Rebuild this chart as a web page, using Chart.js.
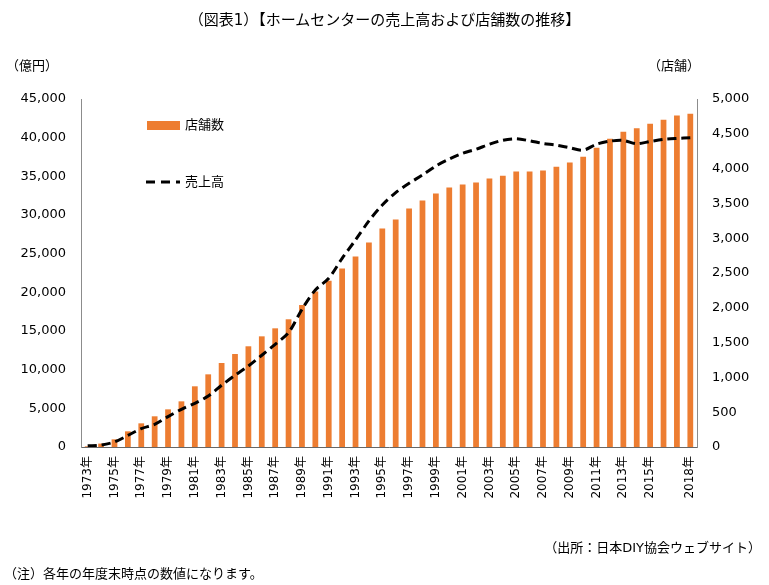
<!DOCTYPE html>
<html lang="ja">
<head>
<meta charset="utf-8">
<script src="https://cdn.jsdelivr.net/npm/chart.js@4"></script>
<style>
  html, body { margin: 0; padding: 0; background: #fff; }
  #wrap { position: relative; width: 769px; height: 585px; font-family: "DejaVu Sans", "Noto Sans CJK JP", sans-serif; color: #000; }
  #chart { position: absolute; left: 0; top: 0; }
  .txt { position: absolute; white-space: nowrap; }
</style>
</head>
<body>
<div id="wrap">
  <canvas id="chart" width="769" height="585"></canvas>
  <div class="txt" style="left:0;width:769px;top:8px;text-align:center;font-size:15px;">（図表1）【ホームセンターの売上高および店舗数の推移】</div>
  <div class="txt" style="left:6px;top:55px;font-size:13px;">（億円）</div>
  <div class="txt" style="left:648px;top:55px;font-size:13px;">（店舗）</div>
  <div class="txt" style="right:8px;top:537px;font-size:13px;">（出所：日本DIY協会ウェブサイト）</div>
  <div class="txt" style="left:4px;top:563px;font-size:13px;">（注）各年の年度末時点の数値になります。</div>
</div>
<script>
const years = [
  1973, 1974, 1975, 1976, 1977, 1978, 1979, 1980, 1981, 1982,
  1983, 1984, 1985, 1986, 1987, 1988, 1989, 1990, 1991, 1992,
  1993, 1994, 1995, 1996, 1997, 1998, 1999, 2000, 2001, 2002,
  2003, 2004, 2005, 2006, 2007, 2008, 2009, 2010, 2011, 2012,
  2013, 2014, 2015, 2016, 2017, 2018
];

// 店舗数 (right axis)
const storeCounts = [
  10, 49, 110, 225, 340, 441, 541, 656, 872, 1044,
  1207, 1336, 1447, 1590, 1705, 1835, 2040, 2234, 2388, 2565,
  2737, 2938, 3139, 3269, 3427, 3542, 3642, 3728, 3772, 3800,
  3858, 3897, 3958, 3958, 3973, 4026, 4088, 4169, 4299, 4428,
  4529, 4581, 4644, 4701, 4763, 4787
];

// 売上高 億円 (left axis)
const salesValues = [
  150, 250, 650, 1500, 2380, 2930, 3930, 4870, 5650, 6590,
  7980, 9270, 10470, 11860, 13280, 14790, 17800, 20300, 21810, 24400,
  26770, 29230, 31290, 32890, 34100, 35170, 36340, 37240, 37980, 38500,
  39150, 39670, 39850, 39600, 39250, 39030, 38690, 38380, 39160, 39550,
  39640, 39210, 39510, 39770, 39900, 39990
];

const shownYears = [
  1973, 1975, 1977, 1979, 1981, 1983, 1985, 1987, 1989, 1991, 1993,
  1995, 1997, 1999, 2001, 2003, 2005, 2007, 2009, 2011, 2013, 2015, 2018
];

const labels = years.map((y) => `${y}年`);

const FONT = "'DejaVu Sans', 'Noto Sans CJK JP', sans-serif";
const AXIS_GRAY = "#8c8c8c";

const insideLegend = {
  id: "insideLegend",
  afterDatasetsDraw(chart) {
    const ctx = chart.ctx;
    ctx.save();
    ctx.fillStyle = "#ED7D31";
    ctx.fillRect(147, 121, 33, 9);

    ctx.strokeStyle = "#000";
    ctx.lineWidth = 3;
    ctx.setLineDash([9, 6]);
    ctx.beginPath();
    ctx.moveTo(146, 182);
    ctx.lineTo(180, 182);
    ctx.stroke();
    ctx.setLineDash([]);

    ctx.fillStyle = "#000";
    ctx.font = `13px ${FONT}`;
    ctx.textBaseline = "middle";
    ctx.fillText("店舗数", 185, 126);
    ctx.fillText("売上高", 185, 183);
    ctx.restore();
  }
};

new Chart(document.getElementById("chart"), {
  type: "bar",
  data: {
    labels,
    datasets: [
      {
        type: "line",
        label: "売上高",
        data: salesValues,
        yAxisID: "ySales",
        borderColor: "#000",
        borderWidth: 3,
        borderDash: [9, 5],
        pointRadius: 0,
        tension: 0.3,
        fill: false,
        order: 0
      },
      {
        type: "bar",
        label: "店舗数",
        data: storeCounts,
        yAxisID: "yStores",
        backgroundColor: "#ED7D31",
        barPercentage: 0.43,
        categoryPercentage: 1,
        order: 1
      }
    ]
  },
  options: {
    responsive: false,
    animation: false,
    layout: {
      padding: { left: 0, right: 0, top: 99, bottom: 78 }
    },
    plugins: {
      legend: { display: false },
      tooltip: { enabled: false }
    },
    scales: {
      x: {
        grid: { display: false, drawTicks: false },
        border: { display: true, color: "#666", width: 1 },
        afterFit(scale) {
          scale.height = 60;
        },
        ticks: {
          autoSkip: false,
          maxRotation: 90,
          minRotation: 90,
          padding: 9,
          color: "#000",
          font: { family: FONT, size: 12 },
          callback(value, index) {
            return shownYears.includes(years[index]) ? labels[index] : "";
          }
        }
      },
      ySales: {
        position: "left",
        min: 0,
        max: 45000,
        grid: { display: false, drawTicks: false },
        border: { display: true, color: AXIS_GRAY, width: 1 },
        afterFit(scale) {
          scale.width = 81;
        },
        ticks: {
          stepSize: 5000,
          padding: 15,
          color: "#000",
          font: { family: FONT, size: 13 },
          callback(value) {
            return value.toLocaleString("en-US");
          }
        }
      },
      yStores: {
        position: "right",
        min: 0,
        max: 5000,
        grid: { display: false, drawTicks: false },
        border: { display: true, color: AXIS_GRAY, width: 1 },
        afterFit(scale) {
          scale.width = 72;
        },
        ticks: {
          stepSize: 500,
          padding: 15,
          color: "#000",
          font: { family: FONT, size: 13 },
          callback(value) {
            return value.toLocaleString("en-US");
          }
        }
      }
    }
  },
  plugins: [insideLegend]
});
</script>
</body>
</html>
